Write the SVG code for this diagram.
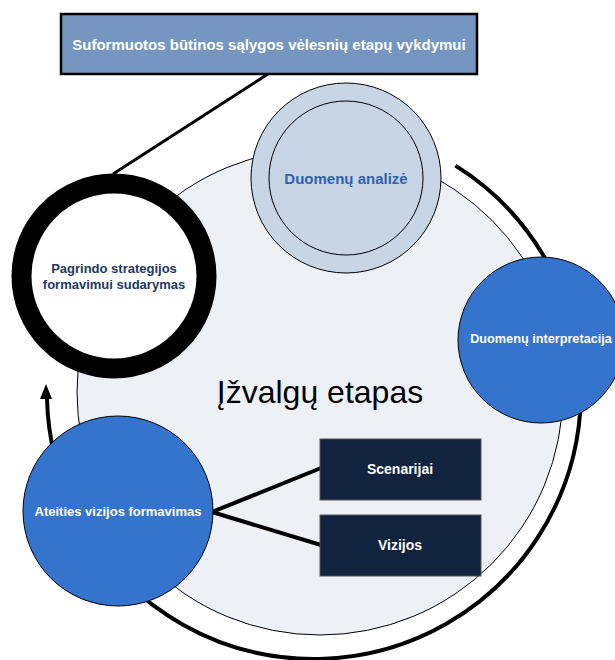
<svg xmlns="http://www.w3.org/2000/svg" width="615" height="660" viewBox="0 0 615 660">
  <style>
    .lbl { font-family: "Liberation Sans", Arial, sans-serif; font-weight: bold; text-anchor: middle; dominant-baseline: central; }
    .white { fill: #ffffff; }
    .thin { stroke: #000000; stroke-width: 1; }
    .blue { fill: #3474CC; }
    .navybox { fill: #12233F; stroke: #555555; stroke-width: 1; }
    .conn { stroke: #000000; stroke-width: 4; fill: none; }
  </style>

  <rect width="615" height="660" fill="#ffffff"/>

  <!-- stage background -->
  <g id="stage">
    <circle cx="320" cy="392" r="243" fill="#EDF0F5" class="thin"/>
    <text x="320" y="392" font-family="'Liberation Sans', Arial, sans-serif" font-size="32" text-anchor="middle" dominant-baseline="central" fill="#000000">Įžvalgų etapas</text>
  </g>

  <!-- connectors -->
  <g id="connectors">
    <path class="conn" d="M455.5 165.6 A267 267 0 1 1 47 399"/>
    <path d="M40 399 L46 384 L52 399 Z" fill="#000000"/>
    <line class="conn" x1="268" y1="74" x2="113" y2="174" style="stroke-width:3"/>
    <line class="conn" x1="212" y1="512" x2="321" y2="468"/>
    <line class="conn" x1="212" y1="512" x2="321" y2="545"/>
  </g>

  <g id="node-title">
    <rect x="61" y="14" width="416" height="60" fill="#7496C0" stroke="#000000" stroke-width="2.5"/>
    <text class="lbl white" x="269" y="44" font-size="15">Suformuotos būtinos sąlygos vėlesnių etapų vykdymui</text>
  </g>

  <g id="node-pagrindo">
    <circle cx="114" cy="276" r="92.5" fill="#ffffff" stroke="#000000" stroke-width="20"/>
    <text class="lbl" x="114" y="268" font-size="13" fill="#203864">Pagrindo strategijos</text>
    <text class="lbl" x="114" y="284" font-size="13" fill="#203864">formavimui sudarymas</text>
  </g>

  <g id="node-analize">
    <circle cx="346" cy="178" r="95" fill="#C8D5E5" class="thin"/>
    <circle cx="346" cy="178" r="77" fill="#C8D5E5" class="thin"/>
    <text class="lbl" x="346" y="178" font-size="15" fill="#2E62B0">Duomenų analizė</text>
  </g>

  <g id="node-interpretacija">
    <circle cx="541" cy="340" r="83" class="blue thin"/>
    <text class="lbl white" x="541" y="339" font-size="12.7">Duomenų interpretacija</text>
  </g>

  <g id="node-vizija">
    <circle cx="118" cy="511" r="95" class="blue thin"/>
    <text class="lbl white" x="118" y="511" font-size="13">Ateities vizijos formavimas</text>
  </g>

  <g id="node-scenarijai">
    <rect x="320" y="439" width="161" height="61" class="navybox"/>
    <text class="lbl white" x="400" y="469" font-size="14">Scenarijai</text>
  </g>

  <g id="node-vizijos">
    <rect x="320" y="515" width="161" height="61" class="navybox"/>
    <text class="lbl white" x="400" y="545" font-size="14">Vizijos</text>
  </g>
</svg>
